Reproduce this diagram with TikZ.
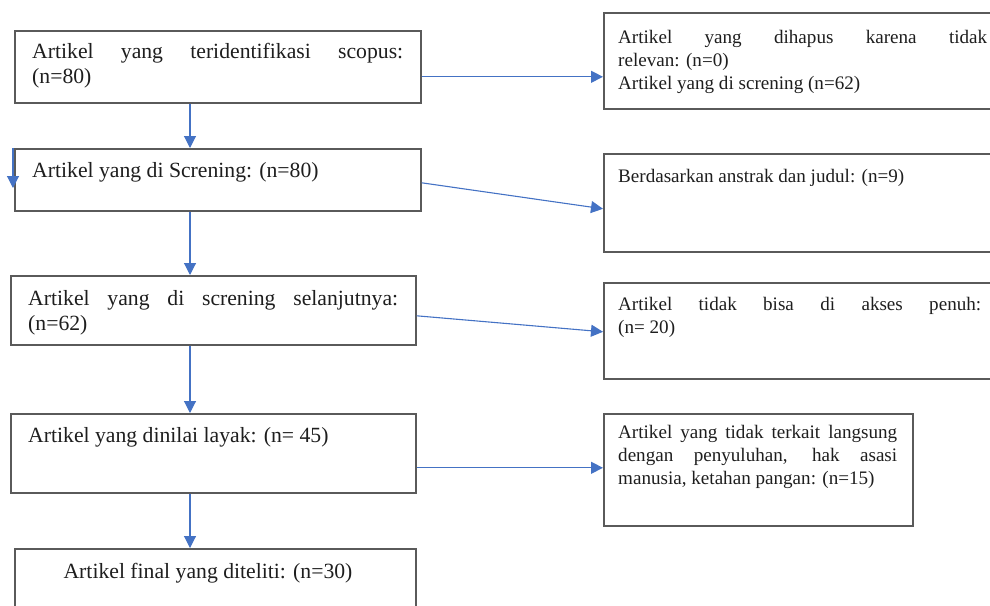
\documentclass[tikz,border=0pt]{standalone}
\usepackage{fontspec}
\setmainfont{Liberation Serif}
\usetikzlibrary{arrows.meta}
\definecolor{arrblue}{HTML}{4472C4}
\definecolor{boxgray}{HTML}{5A5A5A}
\definecolor{txtgray}{HTML}{1E1E1E}
\newcommand{\leftfnt}{\fontsize{21.7}{25}\selectfont}
\newcommand{\rightfnt}{\fontsize{19.1}{23}\selectfont}
\hyphenpenalty=10000
\exhyphenpenalty=10000
\tolerance=10000
\hbadness=10000
\tikzset{
  box/.style={draw=boxgray, line width=1.6pt, rectangle, inner sep=0pt, anchor=north west},
  ltxt/.style={font=\leftfnt, text=txtgray, inner sep=0pt, anchor=north west, align=justify},
  rtxt/.style={font=\rightfnt, text=txtgray, inner sep=0pt, anchor=north west, align=justify},
  arr/.style={draw=arrblue, line width=1.1pt, -{Triangle[length=12pt,width=12pt]}}
}
\begin{document}
\begin{tikzpicture}[x=1pt,y=-1pt]
\useasboundingbox (0,0) rectangle (990,605);
\clip (0,0) rectangle (990,605);
% left column boxes
\node[box, minimum width=406pt, minimum height=72pt] (b1) at (14,30) {};
\node[box, minimum width=406pt, minimum height=62pt] (b2) at (14,148) {};
\node[box, minimum width=405pt, minimum height=69pt] (b3) at (10,275) {};
\node[box, minimum width=405pt, minimum height=79pt] (b4) at (10,413) {};
\node[box, minimum width=401pt, minimum height=80pt] (b5) at (14,548) {};
% right column boxes
\node[box, minimum width=400pt, minimum height=96pt] (r1) at (603,12) {};
\node[box, minimum width=400pt, minimum height=98pt] (r2) at (603,153) {};
\node[box, minimum width=400pt, minimum height=96pt] (r3) at (603,282) {};
\node[box, minimum width=309pt, minimum height=112pt] (r4) at (603,413) {};
% texts
\node[ltxt, text width=371pt] (t1) at (32,41) {\strut Artikel yang teridentifikasi scopus:\linebreak (n=80)};
\node[ltxt, text width=371pt] (t2) at (32,160) {\strut Artikel yang di Screning: (n=80)};
\node[ltxt, text width=370pt] (t3) at (28,288) {\strut Artikel yang di screning selanjutnya:\linebreak (n=62)};
\node[ltxt, text width=370pt] (t4) at (28,425) {\strut Artikel yang dinilai layak: (n= 45)};
\node[font=\leftfnt, text=txtgray, inner sep=0pt, anchor=north] (t5) at (208,561) {\strut Artikel final yang diteliti: (n=30)};
\node[rtxt, text width=369pt] (u1) at (618,27) {\strut Artikel yang dihapus karena tidak\linebreak relevan: (n=0)\par Artikel yang di screning (n=62)};
\node[rtxt, text width=369pt] (u2) at (618,166) {\strut Berdasarkan anstrak dan judul: (n=9)};
\node[rtxt, text width=363pt] (u3) at (618,294) {\strut Artikel tidak bisa di akses penuh:\linebreak (n= 20)};
\node[rtxt, text width=279pt] (u4) at (618,422) {\strut Artikel yang tidak terkait langsung\linebreak dengan penyuluhan, hak asasi\linebreak manusia, ketahan pangan: (n=15)};
% vertical arrows
\draw[arr] ([xshift=176pt]b1.south west) -- ([xshift=176pt]b1.south west |- b2.north);
\draw[arr] ([xshift=176pt]b2.south west) -- ([xshift=176pt]b2.south west |- b3.north);
\draw[arr] ([xshift=180pt]b3.south west) -- ([xshift=180pt]b3.south west |- b4.north);
\draw[arr] ([xshift=180pt]b4.south west) -- ([xshift=180pt]b4.south west |- b5.north);
% stray small arrow on left edge of b2
\draw[arr] ([xshift=-1pt]b2.north west) -- ([xshift=-1pt,yshift=-40pt]b2.north west);
% horizontal arrows
\draw[arr] ([yshift=-10pt]b1.east) -- ([yshift=-10pt]b1.east -| r1.west);
\draw[arr] ([yshift=-3pt]b2.east) -- ([yshift=-6pt]r2.west);
\draw[arr] ([yshift=-5.5pt]b3.east) -- ([yshift=-1pt]r3.west);
\draw[arr] ([yshift=-14.5pt]b4.east) -- ([yshift=-14.5pt]b4.east -| r4.west);
\end{tikzpicture}
\end{document}
